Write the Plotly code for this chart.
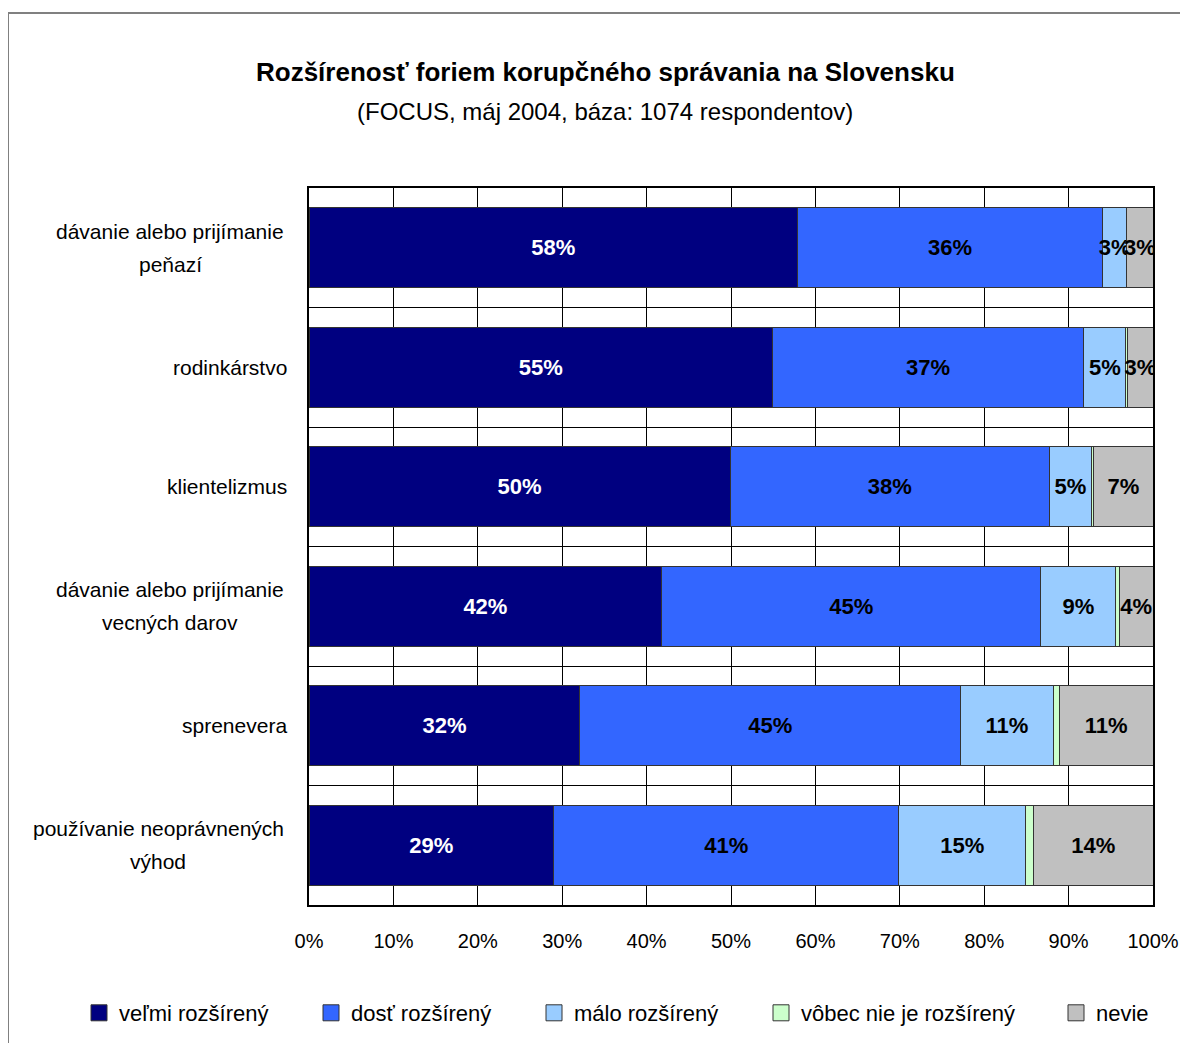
import plotly.graph_objects as go

# categories top to bottom (lines of each label)
categories = [
    "dávanie alebo prijímanie peňazí",
    "rodinkárstvo",
    "klientelizmus",
    "dávanie alebo prijímanie vecných darov",
    "sprenevera",
    "používanie neoprávnených výhod",
]
category_lines = [
    ["dávanie alebo prijímanie", "peňazí"],
    ["rodinkárstvo"],
    ["klientelizmus"],
    ["dávanie alebo prijímanie", "vecných darov"],
    ["sprenevera"],
    ["používanie neoprávnených", "výhod"],
]

series_names = ["veľmi rozšírený", "dosť rozšírený", "málo rozšírený",
                "vôbec nie je rozšírený", "nevie"]

velmi = [57.9, 54.9, 49.9, 41.8, 32.1, 29.0]
dost = [36.1, 36.9, 37.8, 44.9, 45.1, 40.9]
malo = [2.9, 5.0, 5.0, 8.9, 11.0, 15.0]
vobec = [0.0, 0.2, 0.3, 0.4, 0.7, 0.95]
nevie = [3.1, 3.0, 7.0, 4.0, 11.1, 14.15]

labels_velmi = ["58%", "55%", "50%", "42%", "32%", "29%"]
labels_dost = ["36%", "37%", "38%", "45%", "45%", "41%"]
labels_malo = ["3%", "5%", "5%", "9%", "11%", "15%"]
labels_vobec = ["", "", "", "", "", ""]
labels_nevie = ["3%", "3%", "7%", "4%", "11%", "14%"]

x_ticks = [0, 10, 20, 30, 40, 50, 60, 70, 80, 90, 100]
x_tick_labels = ["0%", "10%", "20%", "30%", "40%", "50%", "60%", "70%", "80%", "90%", "100%"]

colors = ["#000080", "#3366FF", "#99CCFF", "#CCFFCC", "#C0C0C0"]
text_colors = ["white", "black", "black", "black", "black"]

# layout helpers (pixel positions in the reference picture)
legend_left_px = [93, 325, 548, 775, 1070]
label_center_px = [170, None, None, 170, None, 158]

FONT = "Liberation Sans, Arial, sans-serif"

OFF = 8  # page body margin
W, H = 1180, 1035
L, R, T, B = 309, 1153, 188, 905  # plot area in reference pixels


def px_x(p):
    return (p - L) / (R - L)


def px_y(p):
    return 1 - (p - T) / (B - T)


fig = go.Figure()
for i, (name, vals, txt, col, tcol) in enumerate(zip(
        series_names,
        [velmi, dost, malo, vobec, nevie],
        [labels_velmi, labels_dost, labels_malo, labels_vobec, labels_nevie],
        colors, text_colors)):
    fig.add_trace(go.Bar(
        y=categories, x=vals, orientation="h", name=name,
        marker=dict(color=col, line=dict(color="#333333", width=1)),
        text=txt, textposition="inside", insidetextanchor="middle",
        constraintext="none", textangle=0,
        textfont=dict(color=tcol, size=22, family=FONT, weight="bold"),
        width=0.667, hoverinfo="skip", showlegend=False,
    ))
    # legend entry with a larger square swatch
    fig.add_trace(go.Scatter(
        x=[None], y=[None], mode="markers", name=name,
        marker=dict(symbol="square", size=16, color=col,
                    line=dict(color="#333333", width=1)),
        legend="legend" if i == 0 else f"legend{i + 1}",
    ))

# category labels, centred lines with wider spacing
for c, lines, cx in zip(categories, category_lines, label_center_px):
    n = len(lines)
    for k, line in enumerate(lines):
        shift = (n - 1) / 2 * 33 - k * 33
        if cx is None:
            fig.add_annotation(x=px_x(289), xref="paper", y=c, yref="y", text=line,
                               showarrow=False, xanchor="right", yshift=shift,
                               font=dict(size=21, family=FONT, color="black"))
        else:
            fig.add_annotation(x=px_x(cx), xref="paper", y=c, yref="y", text=line,
                               showarrow=False, xanchor="center", yshift=shift,
                               font=dict(size=21, family=FONT, color="black"))

fig.add_annotation(x=px_x(605), xref="paper", y=px_y(72), yref="paper", yanchor="middle",
                   text="<b>Rozšírenosť foriem korupčného správania na Slovensku</b>",
                   showarrow=False, font=dict(size=26, family=FONT, color="black"))
fig.add_annotation(x=px_x(605), xref="paper", y=px_y(111), yref="paper", yanchor="middle",
                   text="(FOCUS, máj 2004, báza: 1074 respondentov)",
                   showarrow=False, font=dict(size=24, family=FONT, color="black"))

# outer frame
fig.add_shape(type="rect", xref="paper", yref="paper",
              x0=px_x(8), x1=px_x(1220), y0=px_y(1080), y1=px_y(13),
              line=dict(color="#808080", width=2))

legends = {}
for i, lx in enumerate(legend_left_px):
    key = "legend" if i == 0 else f"legend{i + 1}"
    legends[key] = dict(orientation="h", x=px_x(lx - 14), xanchor="left",
                        y=px_y(1013), yanchor="middle", bgcolor="rgba(0,0,0,0)",
                        itemwidth=30,
                        font=dict(size=22, family=FONT, color="black"))

fig.update_layout(
    width=W, height=H,
    margin=dict(l=L - OFF, r=W - (R - OFF), t=T - OFF, b=H - (B - OFF), autoexpand=False),
    barmode="stack", bargap=0.333,
    plot_bgcolor="white", paper_bgcolor="white",
    font=dict(family=FONT, size=20, color="black"),
    showlegend=True,
    **legends,
)
fig.update_xaxes(range=[0, 100], tickvals=x_ticks, ticktext=x_tick_labels,
                 showgrid=True, gridcolor="black", gridwidth=1,
                 showline=True, linecolor="black", linewidth=2, mirror=True,
                 ticks="", ticklabelstandoff=17, zeroline=False,
                 tickfont=dict(size=20, family=FONT))
fig.update_yaxes(categoryorder="array", categoryarray=categories,
                 range=[5.5, -0.5], showticklabels=False,
                 tickson="boundaries", showgrid=True, gridcolor="black", gridwidth=1,
                 showline=True, linecolor="black", linewidth=2, mirror=True,
                 ticks="")

fig.write_html("out.html")
